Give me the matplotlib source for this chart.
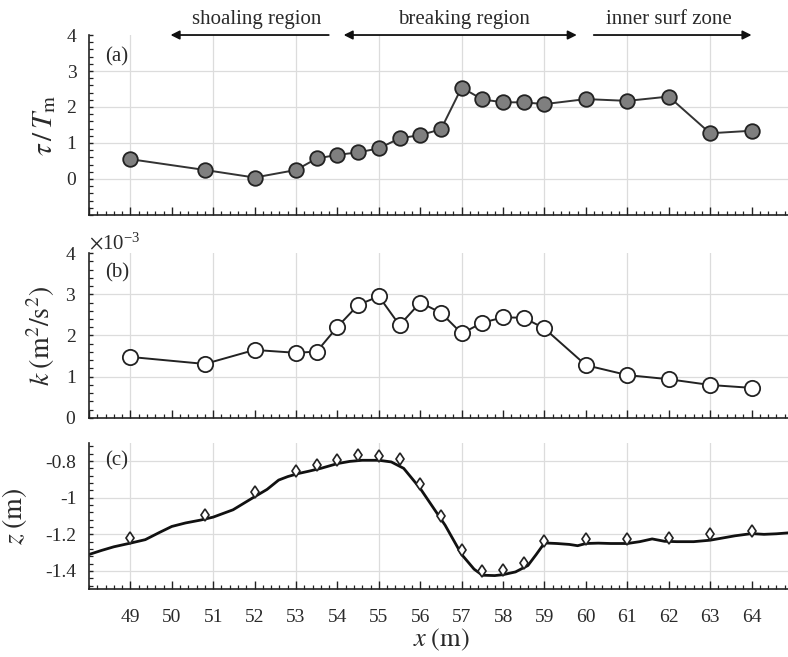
import matplotlib
matplotlib.use("Agg")
import matplotlib.pyplot as plt
from matplotlib.ticker import MultipleLocator, ScalarFormatter
import numpy as np

plt.rcParams['font.family'] = ['Liberation Serif', 'DejaVu Serif']
plt.rcParams['mathtext.fontset'] = 'stix'

# ---- data ----
x_meas = [49, 50.8, 52, 53, 53.5, 54, 54.5, 55, 55.5, 56, 56.5, 57, 57.5, 58,
          58.5, 59, 60, 61, 62, 63, 64]
tau_ratio = [0.55, 0.25, 0.04, 0.25, 0.57, 0.67, 0.74, 0.85, 1.13, 1.22, 1.38,
             2.54, 2.21, 2.13, 2.13, 2.08, 2.22, 2.17, 2.29, 1.27, 1.34]
tke = [1.48e-3, 1.31e-3, 1.65e-3, 1.58e-3, 1.61e-3, 2.21e-3, 2.74e-3, 2.95e-3,
       2.25e-3, 2.80e-3, 2.55e-3, 2.05e-3, 2.31e-3, 2.44e-3, 2.43e-3, 2.17e-3,
       1.28e-3, 1.04e-3, 0.94e-3, 0.80e-3, 0.73e-3]
z_meas = [-1.22, -1.093, -0.971, -0.854, -0.82, -0.792, -0.765, -0.773, -0.79,
          -0.928, -1.10, -1.286, -1.40, -1.395, -1.358, -1.238, -1.225, -1.223,
          -1.22, -1.20, -1.18]
x_bed = [48.0, 48.3, 48.6, 49.0, 49.36, 49.7, 50.0, 50.33, 50.7, 51.0, 51.48,
         51.94, 52.3, 52.58, 52.8, 53.06, 53.3, 53.6, 54.0, 54.3, 54.6, 55.0,
         55.3, 55.6, 56.0, 56.3, 56.6, 57.0, 57.3, 57.5, 57.8, 58.0, 58.3, 58.6,
         58.8, 59.0, 59.3, 59.6, 59.8, 60.0, 60.3, 60.6, 61.0, 61.3, 61.6, 61.9,
         62.2, 62.6, 63.0, 63.3, 63.6, 64.0, 64.3, 64.6, 65.0]
z_bed = [-1.31, -1.288, -1.268, -1.248, -1.229, -1.19, -1.157, -1.138, -1.122,
         -1.106, -1.066, -1.003, -0.955, -0.904, -0.885, -0.868, -0.856, -0.84,
         -0.814, -0.802, -0.796, -0.796, -0.805, -0.84, -0.95, -1.05, -1.15,
         -1.31, -1.39, -1.423, -1.425, -1.42, -1.405, -1.37, -1.31, -1.247,
         -1.25, -1.255, -1.262, -1.25, -1.248, -1.25, -1.25, -1.24, -1.225,
         -1.238, -1.24, -1.24, -1.232, -1.22, -1.208, -1.196, -1.2, -1.197,
         -1.19]

regions = ['shoaling region', 'breaking region', 'inner surf zone']

# ---- figure ----
fig = plt.figure(figsize=(7.88, 6.57), dpi=100)
L, R = 0.1129, 1.0063
axA = fig.add_axes([L, 0.6728, R - L, 0.9467 - 0.6728])
axB = fig.add_axes([L, 0.3638, R - L, 0.6149 - 0.3638])
axC = fig.add_axes([L, 0.1030, R - L, 0.3262 - 0.1030])

txtc = '#2a2a2a'
gridc = '#dcdcdc'

def style(ax, yticks, ymin_step):
    for s in ['top', 'right']:
        ax.spines[s].set_visible(False)
    for s in ['left', 'bottom']:
        ax.spines[s].set_color('#222222')
        ax.spines[s].set_linewidth(1.2)
    ax.set_xlim(48, 65)
    ax.xaxis.set_major_locator(MultipleLocator(1))
    ax.xaxis.set_minor_locator(MultipleLocator(0.2))
    ax.yaxis.set_minor_locator(MultipleLocator(ymin_step))
    ax.set_yticks(yticks)
    ax.tick_params(which='both', direction='in', colors='#222222',
                   labelcolor=txtc, labelsize=14)
    ax.tick_params(which='major', length=6, width=1.0)
    ax.tick_params(which='minor', length=3, width=0.9)
    ax.tick_params(axis='y', which='major', length=3, pad=9)
    for xv in [49, 51, 53, 55, 57, 59, 61, 63]:
        ax.axvline(xv, color=gridc, lw=0.9, zorder=0)

# (a)
style(axA, [0, 1, 2, 3, 4], 0.2)
axA.set_ylim(-1, 4)
for yv in [0, 1, 2, 3]:
    axA.axhline(yv, color=gridc, lw=0.9, zorder=0)
axA.plot(x_meas, tau_ratio, '-o', color='#333333', lw=1.4, ms=10.5,
         mfc='#7f7f7f', mec='#222222', mew=1.3, zorder=3)
axA.tick_params(axis='x', labelbottom=False)
axA.set_ylabel(r'$\tau\,/\,T_{\mathrm{m}}$', fontsize=21, color=txtc, labelpad=6)
axA.text(0.023, 0.878, '(a)', transform=axA.transAxes, fontsize=15,
         color=txtc, va='center', ha='left')

# region arrows
arr_y = 4.0
def arrow(x0, x1, style_):
    axA.annotate('', xy=(x1, arr_y), xytext=(x0, arr_y), xycoords='data',
                 arrowprops=dict(arrowstyle=style_, color='#111111', lw=1.3,
                                 shrinkA=0, shrinkB=0,
                                 mutation_scale=13),
                 annotation_clip=False)
arrow(53.79, 49.97, '-|>')
arrow(54.15, 59.78, '<|-|>')
arrow(60.19, 64.0, '-|>')
for cx, lab in zip([52.05, 57.05, 62.0], regions):
    axA.text(cx, 4.42, lab, fontsize=15, color=txtc, ha='center', va='center',
             clip_on=False)

# (b)
style(axB, [0, 1e-3, 2e-3, 3e-3, 4e-3], 0.2e-3)
axB.set_ylim(0, 4e-3)
for yv in [1e-3, 2e-3, 3e-3]:
    axB.axhline(yv, color=gridc, lw=0.9, zorder=0)
fmt = ScalarFormatter(useMathText=True)
fmt.set_powerlimits((-2, 2))
axB.yaxis.set_major_formatter(fmt)
axB.yaxis.get_offset_text().set_fontsize(15)
axB.yaxis.get_offset_text().set_color(txtc)
axB.plot(x_meas, tke, '-o', color='#222222', lw=1.4, ms=11,
         mfc='white', mec='#222222', mew=1.3, zorder=3)
axB.tick_params(axis='x', labelbottom=False)
axB.set_ylabel(r'$k\;(\mathrm{m^2/s^2})$', fontsize=20, color=txtc, labelpad=6)
axB.text(0.023, 0.879, '(b)', transform=axB.transAxes, fontsize=15,
         color=txtc, va='center', ha='left')

# (c)
style(axC, [-1.4, -1.2, -1.0, -0.8], 0.04)
axC.set_ylim(-1.5, -0.7)
axC.set_yticklabels(['-1.4', '-1.2', '-1', '-0.8'])
for yv in [-1.4, -1.2, -1.0, -0.8]:
    axC.axhline(yv, color=gridc, lw=0.9, zorder=0)
axC.plot(x_bed, z_bed, '-', color='#111111', lw=2.0, zorder=2)
axC.plot(x_meas, z_meas, 'd', ms=6, mfc='white', mec='#222222', mew=1.2,
         zorder=3, linestyle='none')
axC.set_xticks(np.arange(49, 65))
axC.set_xticklabels([str(v) for v in range(49, 65)])
axC.tick_params(axis='x', which='major', pad=14)
axC.set_ylabel(r'$z\;(\mathrm{m})$', fontsize=20, color=txtc, labelpad=12)
axC.set_xlabel(r'$x\;(\mathrm{m})$', fontsize=19, color=txtc)
axC.xaxis.set_label_coords(0.5, -0.255)
axC.text(0.023, 0.877, '(c)', transform=axC.transAxes, fontsize=15,
         color=txtc, va='center', ha='left')

fig.savefig('out.png', dpi=100)
